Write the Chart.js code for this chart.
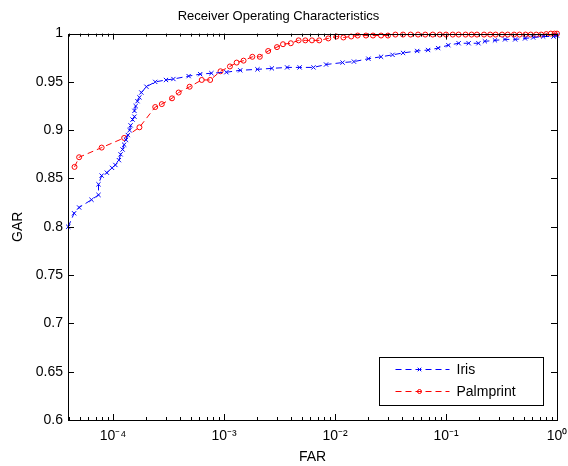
<!DOCTYPE html>
<html>
<head>
<meta charset="utf-8">
<script src="https://cdn.jsdelivr.net/npm/chart.js@4"></script>
<style>
html, body { margin: 0; padding: 0; background: #fff; }
</style>
</head>
<body>
<canvas id="rocChart" width="568" height="466"></canvas>
<script>
// values (FAR on a log axis, GAR linear)
const irisFar = [3.95e-5, 4.46e-5, 4.95e-5, 6.4e-5, 7.4e-5, 7.4e-5, 7.9e-5, 8.8e-5, 9.8e-5, 1.05e-4,
  1.13e-4, 1.17e-4, 1.22e-4, 1.26e-4, 1.31e-4, 1.36e-4, 1.41e-4, 1.44e-4, 1.5e-4, 1.56e-4,
  1.56e-4, 1.6e-4, 1.66e-4, 1.73e-4, 1.8e-4, 2.0e-4, 2.4e-4, 3.0e-4, 3.5e-4, 4.8e-4,
  6.1e-4, 7.7e-4, 1.05e-3, 1.4e-3, 2.0e-3, 2.7e-3, 3.7e-3, 4.8e-3, 6.4e-3, 8.3e-3,
  1.17e-2, 1.48e-2, 2.0e-2, 2.6e-2, 3.3e-2, 4.1e-2, 5.5e-2, 6.9e-2, 8.5e-2, 0.105,
  0.13, 0.16, 0.196, 0.224, 0.276, 0.34, 0.42, 0.515, 0.61, 0.75, 0.93, 1];
const irisGar = [0.800, 0.814, 0.820, 0.828, 0.833, 0.844, 0.853, 0.856, 0.861, 0.864,
  0.869, 0.875, 0.880, 0.885, 0.890, 0.895, 0.900, 0.905, 0.911, 0.914,
  0.920, 0.925, 0.930, 0.934, 0.939, 0.945, 0.950, 0.952, 0.953, 0.956,
  0.958, 0.959, 0.960, 0.962, 0.963, 0.964, 0.965, 0.965, 0.965, 0.968,
  0.970, 0.971, 0.974, 0.976, 0.978, 0.980, 0.982, 0.983, 0.985, 0.988,
  0.990, 0.990, 0.990, 0.992, 0.993, 0.994, 0.994, 0.995, 0.996, 0.997, 0.997, 0.998];

const palmFar = [4.5e-5, 4.95e-5, 7.9e-5, 1.26e-4, 1.73e-4, 2.4e-4, 2.75e-4, 3.4e-4, 3.9e-4, 4.9e-4,
  6.3e-4, 7.5e-4, 9.3e-4, 1.13e-3, 1.3e-3, 1.5e-3, 1.8e-3, 2.1e-3, 2.5e-3, 3.0e-3,
  3.4e-3, 4.0e-3, 4.7e-3, 5.4e-3, 6.2e-3, 7.2e-3, 8.7e-3, 1.03e-2, 1.19e-2, 1.4e-2,
  1.6e-2, 1.9e-2, 2.2e-2, 2.6e-2, 3.0e-2, 3.5e-2, 4.1e-2, 4.8e-2, 5.6e-2, 6.5e-2,
  7.6e-2, 8.8e-2, 0.1, 0.115, 0.13, 0.15, 0.17, 0.19, 0.22, 0.25,
  0.28, 0.32, 0.36, 0.41, 0.46, 0.52, 0.58, 0.65, 0.72, 0.8, 0.88, 0.95, 1];
const palmGar = [0.862, 0.872, 0.882, 0.892, 0.903, 0.924, 0.927, 0.933, 0.939, 0.945,
  0.952, 0.952, 0.961, 0.966, 0.970, 0.972, 0.976, 0.976, 0.982, 0.986,
  0.989, 0.990, 0.993, 0.993, 0.993, 0.993, 0.995, 0.997, 0.996, 0.997,
  0.998, 0.998, 0.998, 0.998, 0.998, 0.999, 0.999, 0.999, 0.999, 0.999,
  0.999, 0.999, 0.999, 0.999, 0.999, 0.999, 0.999, 0.999, 0.999, 0.999,
  0.999, 0.999, 0.999, 0.999, 0.999, 0.999, 0.999, 0.999, 0.999, 0.9995, 1, 1, 1];

const seriesNames = ['Iris', 'Palmprint'];
const xTickValues = [1e-4, 1e-3, 1e-2, 1e-1, 1];
const xTickLabels = ['10\u207B\u2074', '10\u207B\u00B3', '10\u207B\u00B2', '10\u207B\u00B9', '10\u2070'];
const yTickLabels = ['0.6', '0.65', '0.7', '0.75', '0.8', '0.85', '0.9', '0.95', '1'];

const FONT = '"Liberation Sans", Arial, Helvetica, sans-serif';

function toPoints(xs, ys) {
    return xs.map((x, i) => ({ x: x, y: ys[i] }));
}

// MATLAB style frame: box round the axes, ticks pointing inwards, legend box
const matlabAxes = {
    id: 'matlabAxes',
    afterDraw(chart) {
        const ctx = chart.ctx;
        const a = chart.chartArea;
        const xs = chart.scales.x;
        const ys = chart.scales.y;
        ctx.save();
        ctx.strokeStyle = '#000';
        ctx.lineWidth = 1;
        ctx.setLineDash([]);
        ctx.beginPath();
        xs.ticks.forEach(t => {
            const px = Math.round(xs.getPixelForValue(t.value)) + 0.5;
            const major = xTickValues.some(v => Math.abs(Math.log10(v) - Math.log10(t.value)) < 1e-6);
            const len = major ? 6 : 3;
            ctx.moveTo(px, a.bottom); ctx.lineTo(px, a.bottom - len);
            ctx.moveTo(px, a.top); ctx.lineTo(px, a.top + len);
        });
        ys.ticks.forEach(t => {
            const py = Math.round(ys.getPixelForValue(t.value)) + 0.5;
            ctx.moveTo(a.left, py); ctx.lineTo(a.left + 6, py);
            ctx.moveTo(a.right, py); ctx.lineTo(a.right - 6, py);
        });
        ctx.stroke();
        ctx.strokeRect(Math.round(a.left) + 0.5, Math.round(a.top) + 0.5,
            Math.round(a.right - a.left), Math.round(a.bottom - a.top));

        // legend
        const bx = 379.5, by = 357.5, bw = 164, bh = 48;
        ctx.fillStyle = '#fff';
        ctx.fillRect(bx, by, bw, bh);
        ctx.strokeRect(bx, by, bw, bh);
        ctx.font = '14px ' + FONT;
        ctx.textBaseline = 'middle';
        chart.data.datasets.forEach((ds, i) => {
            const ly = by + 12 + i * 22;
            ctx.strokeStyle = ds.borderColor;
            ctx.setLineDash(ds.borderDash);
            ctx.beginPath();
            ctx.moveTo(bx + 16, ly); ctx.lineTo(bx + 70, ly);
            ctx.stroke();
            ctx.setLineDash([]);
            ctx.fillStyle = 'rgba(0,0,0,0)';
            Chart.helpers.drawPoint(ctx, {
                pointStyle: ds.pointStyle, radius: ds.pointRadius - 0.5,
                rotation: 0, borderWidth: 1
            }, bx + 40, ly);
            ctx.fillStyle = '#000';
            ctx.fillText(ds.label, bx + 77, ly + 1);
        });
        ctx.restore();
    }
};

const ctx = document.getElementById('rocChart').getContext('2d');
new Chart(ctx, {
    type: 'line',
    data: {
        datasets: [{
            label: seriesNames[0],
            data: toPoints(irisFar, irisGar),
            borderColor: '#0000ff',
            borderWidth: 1,
            borderDash: [6, 4],
            pointStyle: 'crossRot',
            pointRadius: 3,
            pointBorderColor: '#0000ff',
            pointBorderWidth: 1,
            tension: 0,
            clip: 6
        }, {
            label: seriesNames[1],
            data: toPoints(palmFar, palmGar),
            borderColor: '#ff0000',
            borderWidth: 1,
            borderDash: [6, 4],
            pointStyle: 'circle',
            pointRadius: 2.5,
            pointBorderColor: '#ff0000',
            pointBackgroundColor: 'rgba(0,0,0,0)',
            pointBorderWidth: 1,
            tension: 0,
            clip: 6
        }]
    },
    options: {
        responsive: false,
        animation: false,
        devicePixelRatio: 1,
        layout: { padding: { left: 0, right: 11, top: 0, bottom: 0 } },
        font: { family: FONT },
        plugins: {
            legend: { display: false },
            tooltip: { enabled: false },
            title: {
                display: true,
                text: 'Receiver Operating Characteristics',
                color: '#000',
                font: { family: FONT, size: 13, weight: 'normal' },
                padding: { top: 9, bottom: 9 }
            }
        },
        scales: {
            x: {
                type: 'logarithmic',
                bounds: 'data',
                min: 3.93e-5,
                max: 1,
                grid: { display: false, drawTicks: false },
                border: { display: false },
                afterBuildTicks: scale => {
                    const ticks = [];
                    for (let e = -5; e <= 0; e++) {
                        for (let m = 1; m <= 9; m++) {
                            const v = m * Math.pow(10, e);
                            if (v >= scale.min * 0.999 && v <= scale.max * 1.001) ticks.push({ value: v });
                        }
                    }
                    scale.ticks = ticks;
                },
                ticks: {
                    autoSkip: false,
                    maxRotation: 0,
                    padding: 8,
                    color: '#000',
                    font: { family: FONT, size: 14 },
                    callback: v => {
                        const i = xTickValues.findIndex(t => Math.abs(Math.log10(t) - Math.log10(v)) < 1e-6);
                        return i >= 0 ? xTickLabels[i] : '';
                    }
                },
                title: {
                    display: true,
                    text: 'FAR',
                    color: '#000',
                    font: { family: FONT, size: 14 },
                    padding: { top: 0, bottom: 0 }
                },
                afterFit: scale => {
                    scale.height = 46;
                    scale.paddingLeft = 0;
                    scale.paddingRight = 0;
                }
            },
            y: {
                min: 0.6,
                max: 1,
                grid: { display: false, drawTicks: false },
                border: { display: false },
                ticks: {
                    stepSize: 0.05,
                    padding: 5,
                    color: '#000',
                    font: { family: FONT, size: 14 },
                    callback: (v, i) => yTickLabels[i]
                },
                title: {
                    display: true,
                    text: 'GAR',
                    color: '#000',
                    font: { family: FONT, size: 14 },
                    padding: { top: 10, bottom: 0 }
                },
                afterFit: scale => { scale.width = 68; }
            }
        }
    },
    plugins: [matlabAxes]
});
</script>
</body>
</html>
